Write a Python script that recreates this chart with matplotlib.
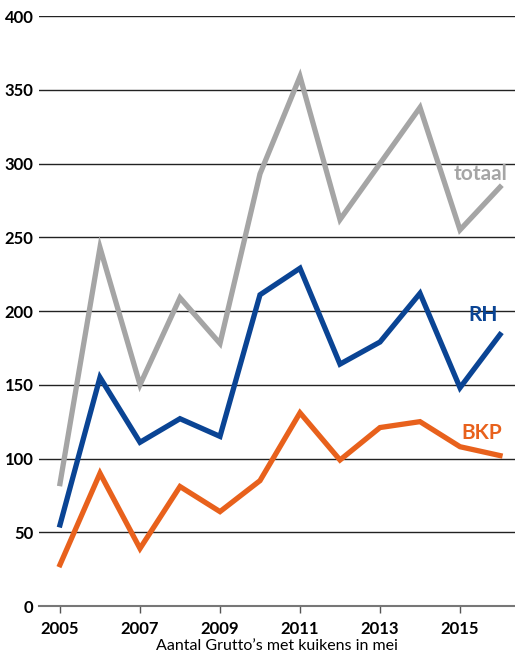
import matplotlib.pyplot as plt

years = list(range(2005, 2017))
totaal = [83, 243, 150, 209, 178, 293, 359, 262, 300, 338, 255, 284]
rh = [55, 155, 111, 127, 115, 211, 229, 164, 179, 212, 148, 184]
bkp = [28, 90, 39, 81, 64, 85, 131, 99, 121, 125, 108, 102]

tick_years = [2005, 2007, 2009, 2011, 2013, 2015]
yticks = [0, 50, 100, 150, 200, 250, 300, 350, 400]

GRAY = '#a5a5a5'
BLUE = '#0a4494'
ORANGE = '#e8611c'

plt.rcParams['font.family'] = ['Lato', 'DejaVu Sans']

fig = plt.figure(figsize=(5.15, 6.57), dpi=100)
ax = fig.add_axes([0.0757, 0.0776, 0.9243, 0.898])

for y in yticks[1:]:
    ax.axhline(y, color='#222222', lw=1.0, zorder=1)

ax.plot(years, totaal, color=GRAY, lw=3.8, solid_joinstyle='miter', zorder=3)
ax.plot(years, rh, color=BLUE, lw=3.8, solid_joinstyle='miter', zorder=3)
ax.plot(years, bkp, color=ORANGE, lw=3.8, solid_joinstyle='miter', zorder=3)

ax.text(2016.2, 293, 'totaal', color=GRAY, fontsize=15, fontweight='bold', ha='right', va='center')
ax.text(2015.95, 197, 'RH', color=BLUE, fontsize=15, fontweight='bold', ha='right', va='center')
ax.text(2016.05, 117, 'BKP', color=ORANGE, fontsize=15, fontweight='bold', ha='right', va='center')

ax.set_xlim(2004.475, 2016.375)
ax.set_ylim(0, 400)
ax.set_xticks(tick_years)
ax.set_yticks(yticks)
ax.tick_params(axis='x', length=5, width=1, color='#555555', labelsize=12, pad=6)
ax.tick_params(axis='y', length=0, labelsize=12, pad=4)
for lab in ax.get_xticklabels() + ax.get_yticklabels():
    lab.set_fontweight('bold')

for s in ['top', 'right', 'left']:
    ax.spines[s].set_visible(False)
ax.spines['bottom'].set_color('#777777')
ax.spines['bottom'].set_linewidth(1.5)

ax.set_xlabel("Aantal Grutto\u2019s met kuikens in mei", fontsize=11.5, labelpad=1)

fig.savefig('out.png', dpi=100)
